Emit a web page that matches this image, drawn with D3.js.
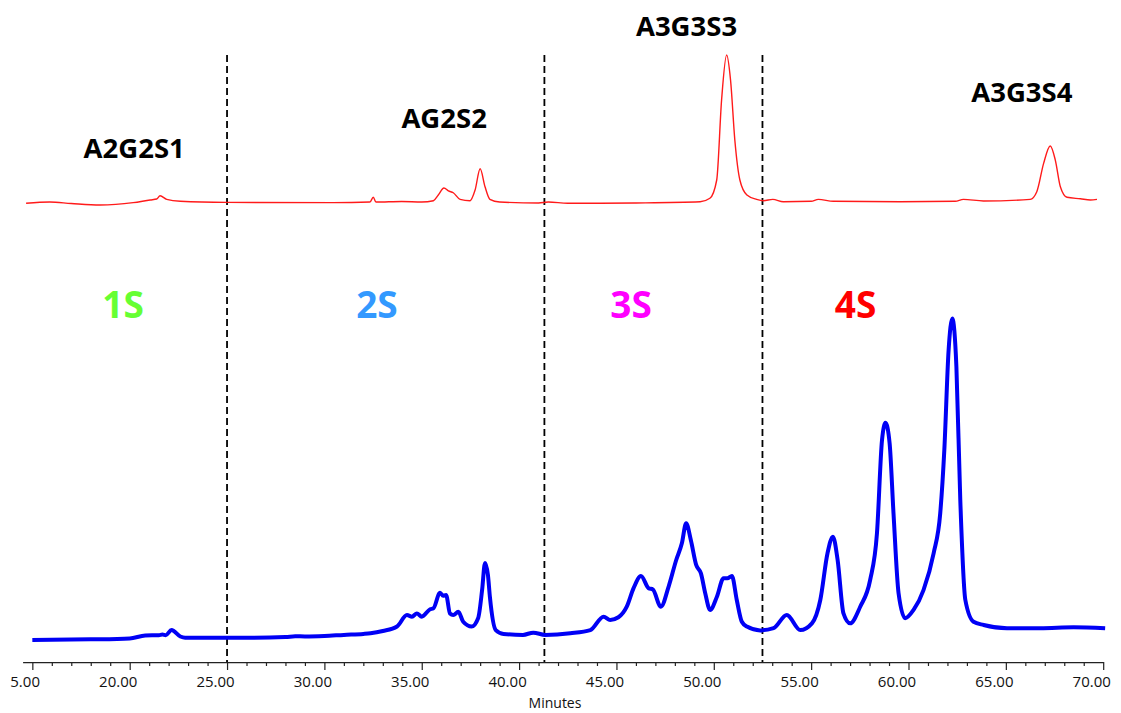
<!DOCTYPE html>
<html>
<head>
<meta charset="utf-8">
<script src="https://cdn.jsdelivr.net/npm/d3@7"></script>
<style>
  body { margin: 0; background: #fff; }
  svg { display: block; }
</style>
</head>
<body>
<div id="chart"></div>
<script>
// Sample trace (red, top) - time in minutes, relative intensity
const sampleTime = [14.68, 15.9, 17.0, 18.48, 20.18, 21.05, 21.39, 21.56, 21.9, 22.6, 24.98, 30.46,
  32.34, 32.51, 32.65, 33.97, 35.0, 35.6, 35.85, 36.14, 36.37, 36.62, 36.97, 37.48, 37.74, 38.0,
  38.25, 38.5, 39.0, 41.0, 41.5, 42.5, 44.16, 46.0, 49.3, 49.8, 50.15, 50.4, 50.66, 50.86, 51.08,
  51.34, 51.7, 52.2, 52.55, 53.03, 53.57, 55.0, 55.37, 56.14, 59.57, 62.4, 62.82, 63.85, 66.25,
  66.59, 66.94, 67.28, 67.54, 67.8, 68.14, 68.83, 69.34, 69.68];
const sampleSignal = [0.5, 1.3, 0.3, -0.7, 0.9, 2.7, 3.3, 5.5, 3.1, 1.8, 1.1, 0.9,
  1.3, 4.5, 1.3, 1.7, 1.3, 2.2, 6, 10.7, 8.7, 7.5, 3.1, 2.2, 9.3, 23.5,
  11.5, 3.1, 1.3, 0.7, 1.3, 0.5, 0.5, 0.7, 1.5, 3.8, 16, 69.3, 99.3, 82.7, 42.7,
  16, 6, 3.1, 2.2, 3.1, 1.5, 1.8, 3.1, 1.8, 1.5, 1.8, 3.1, 2, 3.1,
  8.2, 27.1, 38.7, 29.3, 11.5, 4.5, 3.5, 2.7, 3.1];

// Reference trace (blue, bottom)
const refTime = [15, 18, 20, 20.8, 21.5, 21.68, 21.85, 22.15, 22.6, 22.85, 24, 26, 28, 28.5, 29, 30,
  31, 32, 32.37, 33.0, 33.73, 34.24, 34.5, 34.75, 35.0, 35.43, 35.6, 35.94, 36.1, 36.25, 36.45,
  36.62, 36.88, 37.13, 37.56, 37.9, 38.1, 38.25, 38.4, 38.5, 38.8, 39.2, 40.2, 40.73, 41.34,
  42.63, 43.66, 44.34, 44.68, 45.1, 45.53, 45.88, 46.26, 46.65, 46.87, 47.28, 47.68, 48.07,
  48.36, 48.58, 48.82, 49.1, 49.34, 49.56, 49.81, 50.16, 50.5, 50.7, 50.93, 51.18, 51.44,
  51.7, 52.38, 53.07, 53.75, 54.44, 55.04, 55.47, 55.84, 56.12, 56.36, 56.66, 57.0, 57.52,
  58.03, 58.38, 58.64, 58.82, 59.03, 59.23, 59.49, 59.83, 60.26, 60.77, 61.29, 61.63, 61.84,
  62.06, 62.25, 62.46, 62.66, 62.92, 63.34, 63.86, 65.06, 66.77, 68.48, 70.1];
const refSignal = [0, 0.2, 0.5, 1.4, 1.5, 1.7, 1.5, 3.1, 1.1, 0.7, 0.7, 0.7, 0.9, 1.2, 1.1, 1.25,
  1.6, 1.9, 2.1, 2.8, 4.2, 7.8, 7.3, 8.3, 7.3, 9.6, 9.9, 14.8, 13.8, 14.1, 8.3,
  7.8, 8.8, 5.7, 4.2, 6.9, 15.6, 24.1, 20.3, 13.5, 3.1, 1.9, 1.6, 2.3, 1.6,
  2.1, 3.1, 7.3, 6.25, 7.1, 10.4, 16.2, 20, 16.2, 15.8, 10.4, 16.7, 25,
  30.2, 36.5, 31.25, 23.4, 20.8, 14.6, 9.4, 13.5, 19.3, 19.3, 20, 12.5, 5.7,
  4.2, 3.0, 3.7, 7.8, 3.1, 5.2, 12.5, 27.1, 32.3, 25, 8.3, 5.2, 10.4,
  18.75, 33.3, 62.5, 67.9, 61.5, 39.6, 14.6, 6.8, 9.4, 15.6, 27.1, 39.6, 59.4,
  90.6, 100.5, 85.4, 43.75, 12.5, 5.7, 4.7, 3.7, 3.7, 4.0, 3.7];

// Fraction boundaries (minutes)
const dividers = [25.0, 41.3, 52.5];

// Peak labels on the sample trace
const peakLabels = ['A2G2S1', 'AG2S2', 'A3G3S3', 'A3G3S4'];
const peakLabelTime = [20.23, 36.15, 48.6, 65.82];
const peakLabelLevel = [30.5, 50.5, 112, 68.2];

// Sialylation region labels
const regionLabels = ['1S', '2S', '3S', '4S'];
const regionLabelTime = [19.66, 32.7, 45.75, 57.28];
const regionColors = ['#66ff33', '#3399ff', '#ff00ff', '#ff0000'];

const majorTicks = [15, 20, 25, 30, 35, 40, 45, 50, 55, 60, 65, 70];

const width = 1121;
const height = 713;
const axisY = 662;

const svg = d3.select('#chart').append('svg')
  .attr('width', width)
  .attr('height', height);

const x = d3.scaleLinear().domain([14.5, 70]).range([22.6, 1103.2]);
const yRed = d3.scaleLinear().domain([0, 100]).range([204, 54]);
const yBlue = d3.scaleLinear().domain([0, 100]).range([640, 320]);

// dashed fraction dividers
svg.selectAll('line.divider')
  .data(dividers)
  .join('line')
  .attr('class', 'divider')
  .attr('x1', d => x(d)).attr('x2', d => x(d))
  .attr('y1', 55).attr('y2', axisY)
  .attr('stroke', '#000')
  .attr('stroke-width', 1.8)
  .attr('stroke-dasharray', '7,4');

// traces
const redLine = d3.line()
  .x((d, i) => x(sampleTime[i]))
  .y(d => yRed(d))
  .curve(d3.curveMonotoneX);

svg.append('path')
  .attr('d', redLine(sampleSignal))
  .attr('fill', 'none')
  .attr('stroke', '#ff1a1a')
  .attr('stroke-width', 1.4);

const blueLine = d3.line()
  .x((d, i) => x(refTime[i]))
  .y(d => yBlue(d))
  .curve(d3.curveMonotoneX);

svg.append('path')
  .attr('d', blueLine(refSignal))
  .attr('fill', 'none')
  .attr('stroke', '#0000f5')
  .attr('stroke-width', 4)
  .attr('stroke-linejoin', 'round');

// peak labels
svg.selectAll('text.peak')
  .data(peakLabels)
  .join('text')
  .attr('class', 'peak')
  .attr('x', (d, i) => x(peakLabelTime[i]))
  .attr('y', (d, i) => yRed(peakLabelLevel[i]))
  .attr('text-anchor', 'middle')
  .attr('font-family', 'Open Sans, sans-serif')
  .attr('font-weight', 700)
  .attr('font-size', '27.5px')
  .attr('fill', '#000')
  .text(d => d);

// region labels
svg.selectAll('text.region')
  .data(regionLabels)
  .join('text')
  .attr('class', 'region')
  .attr('x', (d, i) => x(regionLabelTime[i]))
  .attr('y', yBlue(100.6))
  .attr('text-anchor', 'middle')
  .attr('font-family', 'Open Sans, sans-serif')
  .attr('font-weight', 700)
  .attr('font-size', '37px')
  .attr('fill', (d, i) => regionColors[i])
  .text(d => d);

// x axis
svg.append('clipPath').attr('id', 'axisClip')
  .append('rect').attr('x', 9).attr('y', 0).attr('width', width).attr('height', height);

const axisG = svg.append('g')
  .attr('transform', `translate(0,${axisY})`)
  .attr('clip-path', 'url(#axisClip)');

const minorTicks = d3.range(15, 71).filter(v => v % 5 !== 0);

axisG.append('g')
  .call(d3.axisBottom(x).tickValues(minorTicks).tickSize(4).tickFormat(''))
  .call(g => g.select('.domain').remove())
  .call(g => g.selectAll('line').attr('stroke', '#222').attr('stroke-width', 1.2));

axisG.append('g')
  .call(d3.axisBottom(x).tickValues(majorTicks).tickSize(8).tickSizeOuter(0).tickFormat(d3.format('.2f')))
  .call(g => g.select('.domain').attr('stroke', '#222').attr('stroke-width', 1.5))
  .call(g => g.selectAll('line').attr('stroke', '#222').attr('stroke-width', 1.2))
  .call(g => g.selectAll('text')
    .attr('dx', -12)
    .attr('y', 14)
    .attr('fill', '#111')
    .attr('font-family', 'Open Sans, sans-serif')
    .attr('font-size', '15px'));

svg.append('text')
  .attr('x', 555)
  .attr('y', 708)
  .attr('text-anchor', 'middle')
  .attr('font-family', 'Open Sans, sans-serif')
  .attr('font-size', '14px')
  .attr('fill', '#111')
  .text('Minutes');
</script>
</body>
</html>
